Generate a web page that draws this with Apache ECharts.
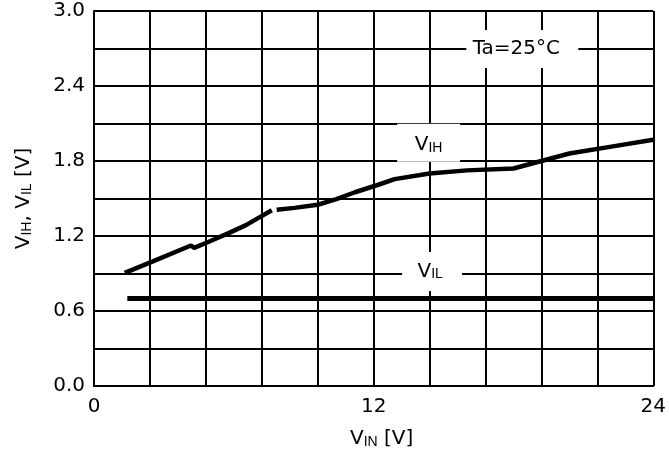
<!DOCTYPE html>
<html><head><meta charset="utf-8">
<script src="https://cdn.jsdelivr.net/npm/echarts@6/dist/echarts.min.js"></script>
<style>html,body{margin:0;padding:0;background:#fff}#c{width:669px;height:454px}</style>
</head><body><div id="c"></div>
<script>
// ---- data ----
const xTickLabels = {0: '0', 12: '12', 24: '24'};
const yTickLabels = {0: '0.0', 6: '0.6', 12: '1.2', 18: '1.8', 24: '2.4', 30: '3.0'};
const vihX1 = [1.32, 2.5, 4.16, 4.3, 5.0, 5.8, 6.5, 7.06, 7.63];
const vihY1 = [0.905, 0.995, 1.124, 1.105, 1.16, 1.225, 1.285, 1.345, 1.406];
const vihX2 = [7.84, 8.6, 9.6, 10.4, 11.2, 12.2, 12.9, 14.4, 16.0, 18.0, 19.2, 20.4, 22.2, 24.0];
const vihY2 = [1.41, 1.425, 1.45, 1.495, 1.55, 1.61, 1.655, 1.70, 1.725, 1.74, 1.80, 1.86, 1.915, 1.97];
const vilX = [1.43, 24];
const vilY = [0.7, 0.7];
const labelVIH = {x: 14.36, y: 1.946};
const labelVIL = {x: 14.51, y: 0.916};
const labelTa = {x: 18.38, y: 2.697, text: 'Ta=25°C'};

const zip = (a, b) => a.map((v, i) => [v, b[i]]);
const FONT = 'DejaVu Sans';
const SUBFONT = 'Liberation Sans';
const lineStyleCurve = {color: '#000', width: 4.5};

function boxLabel(coord, formatter, w, h, rich, offset) {
  return {
    type: 'line', data: [], silent: true, z: 3,
    markPoint: {
      symbol: 'rect', symbolSize: [w, h],
      itemStyle: {color: '#fff'},
      data: [{coord: coord}],
      label: {show: true, position: 'inside', formatter: formatter, color: '#000',
        fontFamily: FONT, fontSize: 20, offset: offset || [0, 0], rich: rich || {}}
    }
  };
}

const subRich = {
  v: {fontSize: 20, fontFamily: FONT, color: '#000', verticalAlign: 'bottom'},
  s: {fontSize: 14, fontFamily: SUBFONT, color: '#000', verticalAlign: 'bottom'}
};

const chart = echarts.init(document.getElementById('c'));
chart.setOption({
  animation: false,
  backgroundColor: '#fff',
  textStyle: {fontFamily: FONT},
  grid: {left: 94, right: 11, top: 11, bottom: 67, containLabel: false},
  xAxis: {
    type: 'value', min: 0, max: 24, interval: 2.4,
    axisLine: {show: true, lineStyle: {color: '#000', width: 2}},
    axisTick: {show: false},
    splitLine: {show: true, lineStyle: {color: '#000', width: 2}},
    axisLabel: {
      color: '#000', fontFamily: FONT, fontSize: 20, margin: 11,
      formatter: v => xTickLabels[Math.round(v)] !== undefined && Math.abs(v - Math.round(v)) < 1e-6 ? xTickLabels[Math.round(v)] : ''
    },
    name: '{v|V}{s|IN}{v| [V]}', nameLocation: 'middle', nameGap: 43,
    nameTextStyle: {rich: subRich, padding: [0, 0, 0, 16]}
  },
  yAxis: {
    type: 'value', min: 0, max: 3.0, interval: 0.3,
    axisLine: {show: true, lineStyle: {color: '#000', width: 2}},
    axisTick: {show: false},
    splitLine: {show: true, lineStyle: {color: '#000', width: 2}},
    axisLabel: {
      color: '#000', fontFamily: FONT, fontSize: 20, margin: 9,
      formatter: v => { const k = Math.round(v * 10); return yTickLabels[k] !== undefined ? yTickLabels[k] : ''; }
    },
    name: '{v|V}{s|IH}{v|, V}{s|IL}{v| [V]}', nameLocation: 'middle', nameGap: 60,
    nameTextStyle: {rich: subRich}
  },
  series: [
    boxLabel([labelVIH.x, labelVIH.y], '{v|V}{s|IH}', 63, 38, subRich, [0, 2]),
    boxLabel([labelVIL.x, labelVIL.y], '{v|V}{s|IL}', 60, 39, subRich, [-2, 0]),
    boxLabel([labelTa.x, labelTa.y], labelTa.text, 112, 38, null, [-6, 0]),
    {type: 'line', data: zip(vihX1, vihY1), showSymbol: false, symbol: 'none', lineStyle: lineStyleCurve, z: 5},
    {type: 'line', data: zip(vihX2, vihY2), showSymbol: false, symbol: 'none', lineStyle: lineStyleCurve, z: 5},
    {type: 'line', data: zip(vilX, vilY), showSymbol: false, symbol: 'none', lineStyle: {color: '#000', width: 5}, z: 5}
  ]
});
</script></body></html>
